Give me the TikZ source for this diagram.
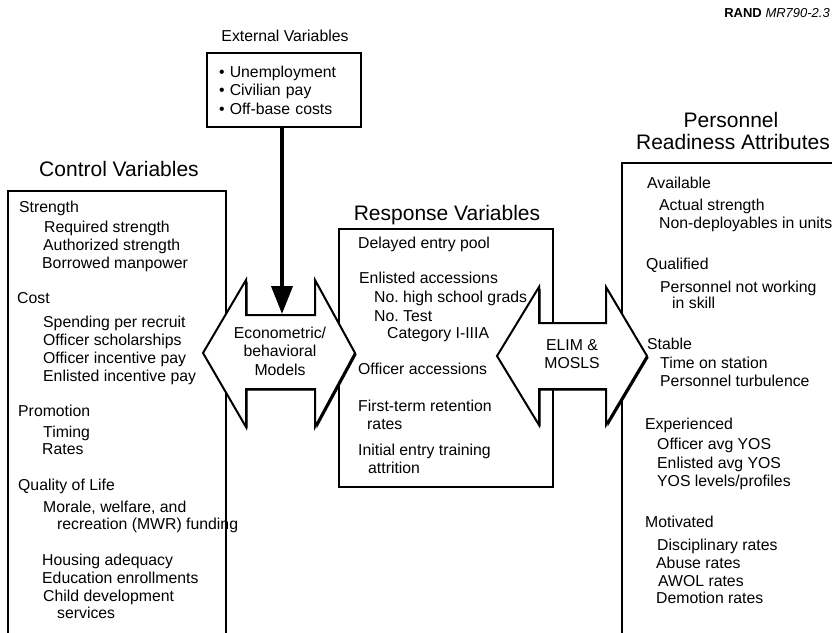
\documentclass[tikz,border=0pt]{standalone}
\usepackage{fontspec}
\setmainfont{Liberation Sans}
\usetikzlibrary{arrows.meta,shadows}
\frenchspacing
\tikzset{
	entry/.style={font=\fontsize{15.8}{18}\selectfont, anchor=base west, inner sep=0pt},
	headline/.style={font=\fontsize{21}{23}\selectfont, anchor=base, inner sep=0pt},
	boxline/.style={line width=2.2pt, line join=miter},
	bigarrow/.style={draw, fill=white, line width=2pt, line join=miter,
		drop shadow={shadow xshift=1.6pt, shadow yshift=-1.6pt, opacity=1, fill=black}},
}

\begin{document}
\begin{tikzpicture}[x=1pt, y=-1pt]
			%%%%% START %%%%%
			\useasboundingbox (0,0) rectangle (832,632);
			
			\node[anchor=base east, inner sep=0pt, font=\fontsize{13}{15}\selectfont] (rand) at (830,17) {\textbf{RAND} \textit{MR790-2.3}};
			
			\draw[boxline] (8,640) -- (8,191) -- (226,191) -- (226,640);
			\draw[boxline] (339,229) rectangle (553,487);
			\draw[boxline] (622,640) -- (622,163) -- (840,163);
			
			\node[entry, anchor=base] (exttitle) at (285,41) {External Variables};
			\node[boxline, draw, text width=130pt, inner xsep=12pt, minimum height=74pt, align=left,
				font=\fontsize{15.8}{18.5}\selectfont] (ext) at (284,90) {\textbullet\ Unemployment\\\textbullet\ Civilian pay\\\textbullet\ Off-base costs};
			
			\coordinate (econtop) at (282,314);
			\draw[line width=4pt, -{Triangle[length=28pt,width=21pt]}] (ext.south -| econtop) -- (econtop);
			
			\path[bigarrow] (203,353) -- (246,280) -- (246,315) -- (315,315) -- (315,280) -- (355,353)
				-- (315,427) -- (315,389) -- (246,389) -- (246,427) -- cycle;
			\node[align=center, inner sep=0pt, font=\fontsize{15.8}{18.5}\selectfont] (econ) at (280,351) {Econometric/\\behavioral\\Models};
			
			\path[bigarrow] (497,356) -- (539,287) -- (539,323) -- (606,323) -- (606,287) -- (647,356)
				-- (606,425) -- (606,389) -- (539,389) -- (539,425) -- cycle;
			\node[align=center, inner sep=0pt, font=\fontsize{15.8}{18}\selectfont] (elim) at (572,354) {ELIM \&\\MOSLS};
			
			\node[headline] (ctltitle) at (119,176) {Control Variables};
			\node[headline] (resptitle) at (447,220) {Response Variables};
			\node[headline] (attrtitle) at (731,127) {Personnel};
			\node[headline] (attrtitle2) at (733,149) {Readiness Attributes};
			
			\foreach \x/\y/\t [count=\i] in {19/212/Strength, 44/232/Required strength, 43/250/Authorized strength,
				42/268/Borrowed manpower, 17/303/Cost, 43/327/Spending per recruit, 43/345/Officer scholarships,
				43/363/Officer incentive pay, 43/381/Enlisted incentive pay, 18/416/Promotion, 43/437/Timing,
				42/454/Rates, 18/490/Quality of Life, 43/512/{Morale, welfare, and}, 57/529/recreation (MWR) funding,
				42/565/Housing adequacy, 42/583/Education enrollments, 43/601/Child development, 57/618/services}
				\node[entry] (ctl-\i) at (\x,\y) {\t};
			
			\foreach \x/\y/\t [count=\i] in {358/248/Delayed entry pool, 359/283/Enlisted accessions,
				374/302/No. high school grads, 374/321/No. Test, 387/338/Category I-IIIA, 358/374/Officer accessions,
				358/411/First-term retention, 367/429/rates, 358/455/Initial entry training, 368/473/attrition}
				\node[entry] (resp-\i) at (\x,\y) {\t};
			
			\foreach \x/\y/\t [count=\i] in {647/188/Available, 659/210/Actual strength, 659/228/Non-deployables in units,
				646/269/Qualified, 660/292/Personnel not working, 672/308/in skill, 647/349/Stable,
				660/368/Time on station, 660/386/Personnel turbulence, 645/429/Experienced, 657/449/Officer avg YOS,
				657/468/Enlisted avg YOS, 657/486/{YOS levels/profiles}, 645/527/Motivated, 657/550/Disciplinary rates,
				656/568/Abuse rates, 658/586/AWOL rates, 656/603/Demotion rates}
				\node[entry] (attr-\i) at (\x,\y) {\t};
			%%%%% END %%%%%
\end{tikzpicture}
\end{document}
